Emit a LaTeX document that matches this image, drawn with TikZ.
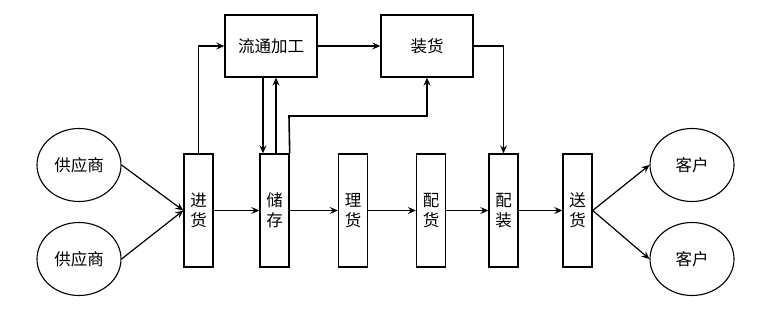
\documentclass[tikz,border=0pt]{standalone}
\usepackage{fontspec}
\newfontfamily\cjk{Noto Sans CJK SC}
\usetikzlibrary{arrows.meta,shapes.geometric}
\begin{document}
\begin{tikzpicture}[x=1pt,y=-1pt,
  every node/.style={font=\cjk\fontsize{16.5}{20}\selectfont},
  tallbox/.style={draw,line width=1.4pt,minimum width=29pt,minimum height=113pt,inner sep=0pt,align=center},
  topbox/.style={draw,line width=1.4pt,minimum width=92pt,minimum height=62pt,inner sep=0pt},
  oval/.style={draw,ellipse,line width=1.1pt,minimum width=84pt,minimum height=73pt,inner sep=0pt},
  conn/.style={line width=1.2pt,-{Stealth[length=8pt,width=7pt,inset=3pt]}}]
\useasboundingbox (0,0) rectangle (766,313);
\node[oval] (s1) at (79,165) {供应商};
\node[oval] (s2) at (79,259) {供应商};
\node[oval] (c1) at (692,165) {客户};
\node[oval] (c2) at (692,259) {客户};
\node[tallbox] (jh) at (198.5,210.5) {进\\货};
\node[tallbox] (cc) at (274.5,210.5) {储\\存};
\node[tallbox] (lh) at (353,210.5) {理\\货};
\node[tallbox] (ph) at (431,210.5) {配\\货};
\node[tallbox] (pz) at (503.5,210.5) {配\\装};
\node[tallbox] (sh) at (577.5,210.5) {送\\货};
\node[topbox] (lt) at (271,46) {流通加工};
\node[topbox] (zh) at (427,46) {装货};
\draw[conn] (s1.east) -- (jh.west);
\draw[conn] (s2.east) -- (jh.west);
\draw[conn] (jh) -- (cc);
\draw[conn] (cc) -- (lh);
\draw[conn] (lh) -- (ph);
\draw[conn] (ph) -- (pz);
\draw[conn] (pz) -- (sh);
\draw[conn] (sh.east) -- (c1.west);
\draw[conn] (sh.east) -- (c2.west);
\draw[conn] (jh.north) |- (lt.west);
\draw[conn] (lt) -- (zh);
\draw[conn] (zh.east) -| (pz.north);
\draw[conn] (lt.south -| 263,0) -- (cc.north -| 263,0);
\draw[conn] (cc.north -| 276,0) -- (lt.south -| 276,0);
\coordinate (k) at (289,116);
\draw[conn,line width=1.6pt] (cc.north east) -- (k) -| (zh.south);
\end{tikzpicture}
\end{document}
